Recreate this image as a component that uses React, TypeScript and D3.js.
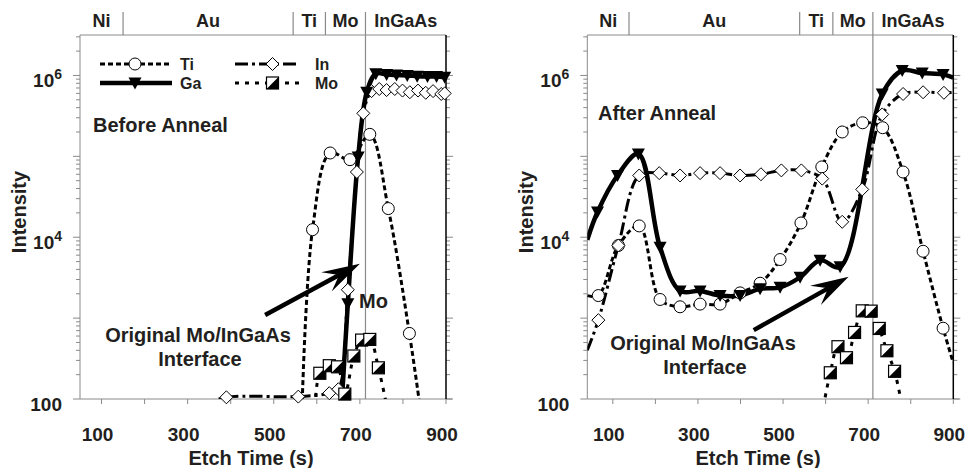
import * as d3 from "d3";
import React, { useEffect, useRef } from "react";

const W = 965;
const H = 468;

// [etch time (s), intensity]
const tiBefore = [[565, 60], [590, 1.24e4], [631, 1.1e5], [677, 9.1e4], [723, 1.87e5], [766, 2.26e4], [815, 647], [845, 50]];
const gaBefore = [[655, 50], [672, 1.5e3], [696, 9.8e4], [716, 6.2e5], [737, 1.05e6], [762, 1.03e6], [785, 1.01e6], [810, 1.0e6], [833, 9.8e5], [857, 9.7e5], [878, 9.7e5], [897, 9.5e5]];
const inBefore = [[335, 85], [390, 105], [557, 107], [629, 118], [650, 132], [672, 2.24e3], [693, 6.4e4], [708, 3.4e5], [727, 6.4e5], [745, 6.8e5], [762, 6.6e5], [781, 6.8e5], [799, 6.5e5], [816, 6.2e5], [835, 6.5e5], [853, 6.1e5], [870, 6.4e5], [889, 5.9e5], [897, 6.0e5]];
const moBefore = [[595, 60], [607, 208], [629, 258], [648, 250], [665, 115], [686, 340], [704, 535], [723, 545], [743, 243], [765, 70]];

const tiAfter = [[40, 1.9e3], [66, 1.9e3], [113, 7.9e3], [162, 1.38e4], [211, 1.7e3], [258, 1.38e3], [305, 1.49e3], [352, 1.49e3], [399, 2.05e3], [446, 2.7e3], [493, 5.3e3], [542, 1.5e4], [591, 7.4e4], [639, 2.0e5], [687, 2.6e5], [734, 2.26e5], [782, 6.4e4], [829, 6.7e3], [876, 750], [900, 280]];
const gaAfter = [[40, 9.3e3], [64, 2.05e4], [111, 5.8e4], [160, 1.07e5], [211, 7.5e3], [258, 2.17e3], [305, 2.17e3], [352, 1.9e3], [399, 1.9e3], [446, 2.3e3], [493, 2.4e3], [540, 3.2e3], [587, 5.2e3], [634, 4.3e3], [733, 5.9e5], [780, 1.15e6], [827, 1.07e6], [876, 1.03e6], [900, 9.4e5]];
const inAfter = [[40, 400], [66, 944], [113, 7.9e3], [162, 5.8e4], [209, 6.2e4], [258, 5.8e4], [305, 6.2e4], [352, 6.2e4], [399, 5.8e4], [448, 6.0e4], [496, 6.7e4], [543, 6.7e4], [592, 5.3e4], [639, 1.55e4], [686, 3.9e4], [733, 3.3e5], [782, 5.9e5], [829, 6.2e5], [878, 6.1e5], [900, 6.2e5]];
const moAfter = [[590, 60], [611, 211], [629, 443], [649, 324], [668, 665], [686, 1230], [707, 1220], [726, 745], [744, 395], [762, 220], [780, 80]];

// layer names with their etch time boundaries
const layerNames = ["Ni", "Au", "Ti", "Mo", "InGaAs"];
const layerEdgesBefore = [50, 150, 545, 620, 713, 900];
const layerEdgesAfter = [40, 138, 539, 617, 711, 900];

const xTicks = [100, 200, 300, 400, 500, 600, 700, 800, 900];
const xTickLabels = [100, 300, 500, 700, 900];
const yTickLabels = [100, 1e4, 1e6];

// arrow [tail, tip] in data units
const arrowBefore = [[480, 1.09e3], [700, 4.7e3]];
const arrowAfter = [[431, 710], [654, 3.24e3]];

const legendItems = ["Ti", "Ga", "In", "Mo"];

const INK = "#231f20";
const AXIS = "#8a8a8a";
const FONT = "'Liberation Sans', Arial, sans-serif";
const Y_TOP = 35;
const Y_BOT = 399;

const styles = {
    Ti: {width: 3, dash: "5,3"},
    Ga: {width: 4.5, dash: null},
    In: {width: 3, dash: "13,4,3,4"},
    Mo: {width: 3, dash: "4,6"}
};

const drawMarker = (g, kind, cx, cy) => {
    const m = g.append("g").attr("transform", `translate(${cx},${cy})`);
    if (kind === "Ti") {
        m.append("circle").attr("r", 6).attr("fill", "#fff").attr("stroke", "#000").attr("stroke-width", 1);
    } else if (kind === "Ga") {
        m.append("path").attr("d", "M-6.5,-5.5L6.5,-5.5L0,6.5Z").attr("fill", "#000");
    } else if (kind === "In") {
        m.append("path").attr("d", "M0,-6.5L6.5,0L0,6.5L-6.5,0Z").attr("fill", "#fff").attr("stroke", "#000").attr("stroke-width", 1);
    } else {
        m.append("rect").attr("x", -6).attr("y", -6).attr("width", 12).attr("height", 12)
            .attr("fill", "#fff").attr("stroke", "#000").attr("stroke-width", 1.2);
        m.append("path").attr("d", "M6,-6L6,6L-6,6Z").attr("fill", "#000");
    }
};

const drawPanel = (svg, p) => {
    const x = d3.scaleLinear().domain(p.domain).range([p.left, p.right]);
    const y = d3.scaleLog().domain([100, Math.pow(10, 6.5)]).range([Y_BOT, Y_TOP]);
    const g = svg.append("g");

    g.append("clipPath").attr("id", p.id).append("rect")
        .attr("x", p.left).attr("y", Y_TOP).attr("width", p.right - p.left).attr("height", Y_BOT - Y_TOP);

    // frame
    g.append("line").attr("x1", p.left).attr("x2", p.right).attr("y1", Y_TOP).attr("y2", Y_TOP).attr("stroke", AXIS);
    g.append("line").attr("x1", p.left).attr("x2", p.left).attr("y1", Y_TOP).attr("y2", Y_BOT).attr("stroke", AXIS);
    g.append("line").attr("x1", p.left).attr("x2", p.right + 6).attr("y1", Y_BOT).attr("y2", Y_BOT).attr("stroke", AXIS);

    // y ticks both sides
    y.ticks().forEach(t => {
        const major = Math.abs(Math.log10(t) % 1) < 1e-9;
        const len = major ? 7 : 4;
        g.append("line").attr("x1", p.left - len).attr("x2", p.left).attr("y1", y(t)).attr("y2", y(t)).attr("stroke", AXIS);
        g.append("line").attr("x1", p.right).attr("x2", p.right + len).attr("y1", y(t)).attr("y2", y(t)).attr("stroke", AXIS);
    });
    yTickLabels.forEach(t => {
        const e = Math.round(Math.log10(t));
        const txt = g.append("text").attr("x", p.left - 18).attr("y", y(t) + 12)
            .attr("text-anchor", "end").attr("font-size", 19);
        if (e === 2) txt.text("100");
        else {
            txt.append("tspan").text("10");
            txt.append("tspan").attr("dy", -8).attr("font-size", 14).text(e);
        }
    });

    // x ticks
    xTicks.forEach(t => {
        g.append("line").attr("x1", x(t)).attr("x2", x(t)).attr("y1", Y_BOT).attr("y2", Y_BOT + 5).attr("stroke", AXIS);
    });
    xTickLabels.forEach(t => {
        g.append("text").attr("x", x(t) - 4).attr("y", Y_BOT + 42).attr("text-anchor", "middle")
            .attr("font-size", 19).text(t);
    });

    // layer labels on top
    const edges = p.layers;
    edges.slice(1, -1).forEach((e, i) => {
        const last = i === edges.length - 3;
        g.append("line").attr("x1", x(e)).attr("x2", x(e)).attr("y1", 12).attr("y2", last ? Y_BOT : Y_TOP)
            .attr("stroke", AXIS).attr("stroke-width", 1.2);
    });
    layerNames.forEach((n, i) => {
        g.append("text").attr("x", x((edges[i] + edges[i + 1]) / 2)).attr("y", 27)
            .attr("text-anchor", "middle").attr("font-size", 18).text(n);
    });

    // right border
    g.append("line").attr("x1", p.right).attr("x2", p.right).attr("y1", Y_TOP).attr("y2", Y_BOT)
        .attr("stroke", "#000").attr("stroke-width", 1.5);

    // curves
    const line = d3.line().x(d => x(d[0])).y(d => y(d[1])).curve(d3.curveCatmullRom.alpha(0.5));
    const plot = g.append("g").attr("clip-path", `url(#${p.id})`);
    ["In", "Mo", "Ti", "Ga"].forEach(k => {
        plot.append("path").datum(p.series[k]).attr("d", line).attr("fill", "none")
            .attr("stroke", "#000").attr("stroke-width", styles[k].width)
            .attr("stroke-dasharray", styles[k].dash);
    });
    ["Ti", "In", "Mo", "Ga"].forEach(k => {
        p.series[k].filter(d => d[0] > p.domain[0] && d[0] < p.domain[1] && d[1] >= 100)
            .forEach(d => drawMarker(g, k, x(d[0]), y(d[1])));
    });

    // arrow
    const [tail, tip] = p.arrow.map(d => [x(d[0]), y(d[1])]);
    const dx = tip[0] - tail[0], dy = tip[1] - tail[1];
    const len = Math.hypot(dx, dy);
    const ux = dx / len, uy = dy / len, nx = -uy, ny = ux;
    const L = 38, Wd = 11;
    const notch = [tip[0] - ux * L * 0.62, tip[1] - uy * L * 0.62];
    g.append("line").attr("x1", tail[0]).attr("y1", tail[1]).attr("x2", notch[0]).attr("y2", notch[1])
        .attr("stroke", "#000").attr("stroke-width", 4.5);
    g.append("path").attr("d", `M${tip[0]},${tip[1]}` +
        `L${tip[0] - ux * L + nx * Wd},${tip[1] - uy * L + ny * Wd}` +
        `L${notch[0]},${notch[1]}` +
        `L${tip[0] - ux * L - nx * Wd},${tip[1] - uy * L - ny * Wd}Z`).attr("fill", "#000");

    // texts
    g.append("text").attr("x", p.title[0]).attr("y", p.title[1]).attr("font-size", 20).text(p.titleText);
    g.append("text").attr("x", p.note[0]).attr("y", p.note[1]).attr("text-anchor", "middle").attr("font-size", 20)
        .text("Original Mo/InGaAs");
    g.append("text").attr("x", p.note[0] + 2).attr("y", p.note[1] + 24).attr("text-anchor", "middle").attr("font-size", 20)
        .text("Interface");
    g.append("text").attr("transform", `translate(${p.left - 54},212) rotate(-90)`)
        .attr("text-anchor", "middle").attr("font-size", 20).text("Intensity");
    g.append("text").attr("x", p.xTitle).attr("y", 465).attr("text-anchor", "middle").attr("font-size", 20)
        .text("Etch Time (s)");
};

const drawLegend = (svg) => {
    const g = svg.append("g");
    const cols = [[100, 172, 135, 180], [235, 300, 272.5, 315]];
    const rows = [64, 83];
    legendItems.forEach((k, i) => {
        const [x1, x2, mx, tx] = cols[i < 2 ? 0 : 1];
        const ry = rows[i % 2];
        g.append("line").attr("x1", x1).attr("x2", x2).attr("y1", ry).attr("y2", ry)
            .attr("stroke", "#000").attr("stroke-width", styles[k].width)
            .attr("stroke-dasharray", styles[k].dash);
        drawMarker(g, k, mx, ry);
        g.append("text").attr("x", tx).attr("y", ry + 5.5).attr("font-size", 16).text(k);
    });
};

const App = () => {
    const ref = useRef(null);
    useEffect(() => {
        const svg = d3.select(ref.current);
        svg.selectAll("*").remove();
        svg.attr("font-family", FONT).attr("font-weight", "bold").attr("fill", INK);
        drawPanel(svg, {
            id: "clipBefore", left: 80, right: 446, domain: [50, 900], layers: layerEdgesBefore,
            series: {Ti: tiBefore, Ga: gaBefore, In: inBefore, Mo: moBefore},
            arrow: arrowBefore, title: [93, 132], titleText: "Before Anneal", note: [198, 342], xTitle: 251
        });
        drawPanel(svg, {
            id: "clipAfter", left: 587.3, right: 953.3, domain: [40, 900], layers: layerEdgesAfter,
            series: {Ti: tiAfter, Ga: gaAfter, In: inAfter, Mo: moAfter},
            arrow: arrowAfter, title: [598, 120], titleText: "After Anneal", note: [703, 350], xTitle: 758
        });
        drawLegend(svg);
        svg.append("text").attr("x", 359).attr("y", 308).attr("font-size", 20).text("Mo");
    }, []);

    return (
        <svg ref={ref} width={W} height={H} style={{position: "absolute", left: 0, top: 0, background: "#fff"}}/>
    );
};

export default App;
